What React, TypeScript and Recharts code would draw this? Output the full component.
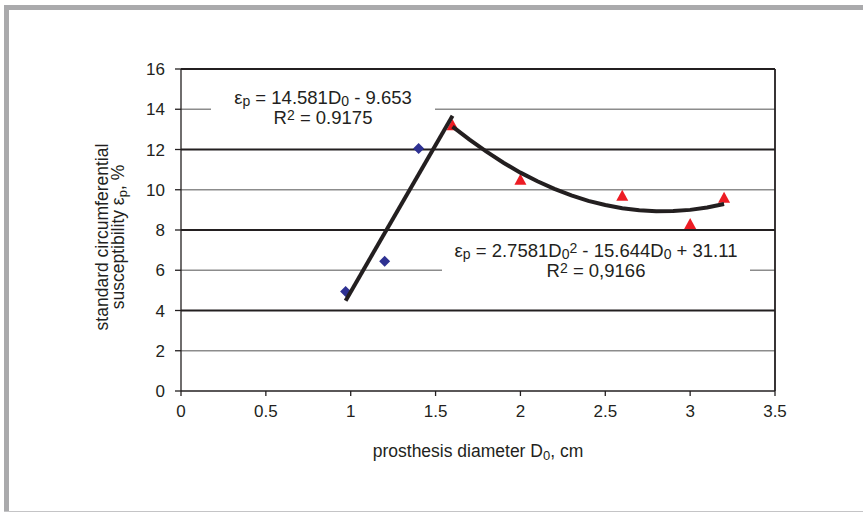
import React from 'react';
import {
  ScatterChart,
  Scatter,
  XAxis,
  YAxis,
  ReferenceLine,
} from 'recharts';

// measured points, D0 in cm, eps_p in %
const bluePoints = [
  { x: 0.97, y: 4.95 },
  { x: 1.2, y: 6.45 },
  { x: 1.4, y: 12.05 },
];

const redPoints = [
  { x: 1.6, y: 13.2 },
  { x: 2.0, y: 10.5 },
  { x: 2.6, y: 9.7 },
  { x: 3.0, y: 8.3 },
  { x: 3.2, y: 9.6 },
];

// trend lines
const linearTrend = [
  { x: 0.97, y: 4.49 },
  { x: 1.6, y: 13.68 },
];

const quadTrend = [
  { x: 1.6, y: 13.14 },
  { x: 1.7, y: 12.49 },
  { x: 1.8, y: 11.89 },
  { x: 1.9, y: 11.34 },
  { x: 2.0, y: 10.85 },
  { x: 2.1, y: 10.42 },
  { x: 2.2, y: 10.04 },
  { x: 2.3, y: 9.72 },
  { x: 2.4, y: 9.45 },
  { x: 2.5, y: 9.24 },
  { x: 2.6, y: 9.08 },
  { x: 2.7, y: 8.98 },
  { x: 2.8, y: 8.93 },
  { x: 2.9, y: 8.94 },
  { x: 3.0, y: 9.0 },
  { x: 3.1, y: 9.12 },
  { x: 3.2, y: 9.29 },
];

const xTicks = [0, 0.5, 1, 1.5, 2, 2.5, 3, 3.5];
const yTicks = [0, 2, 4, 6, 8, 10, 12, 14, 16];
const majorGrid = [4, 8, 12, 16];
const minorGrid = [2, 6, 10, 14];

const font = '"Liberation Sans", Arial, sans-serif';
const ink = '#231f20';

const sub: React.CSSProperties = { fontSize: 14, lineHeight: 0, verticalAlign: -2 };
const sup: React.CSSProperties = { fontSize: 14, lineHeight: 0, verticalAlign: 4 };
const labSub: React.CSSProperties = { fontSize: 13, lineHeight: 0, verticalAlign: -3 };

const Diamond = (props: any) => {
  const { cx, cy } = props;
  return <path d={`M${cx},${cy - 5.5} L${cx + 5.5},${cy} L${cx},${cy + 5.5} L${cx - 5.5},${cy} Z`} fill="#2e3192" />;
};

const Triangle = (props: any) => {
  const { cx, cy } = props;
  return <path d={`M${cx},${cy - 6} L${cx + 6},${cy + 5} L${cx - 6},${cy + 5} Z`} fill="#ed1c24" />;
};

const NoDot = () => <g />;

const App = () => {
  return (
    <div style={{ position: 'absolute', left: 0, top: 0, width: 863, height: 513, background: '#fff', fontFamily: font, overflow: 'hidden' }}>
      {/* frame */}
      <div style={{ position: 'absolute', left: 4, top: 5, width: 5, height: 507, background: '#aaaaac' }} />
      <div style={{ position: 'absolute', left: 4, top: 5, width: 859, height: 5, background: '#aaaaac' }} />
      <div style={{ position: 'absolute', left: 4, top: 511, width: 859, height: 1, background: '#c4c4c6' }} />

      <ScatterChart
        width={863}
        height={513}
        margin={{ top: 69, right: 88, bottom: 92, left: 121 }}
        style={{ position: 'absolute', left: 0, top: 0 }}
      >
        <XAxis
          type="number"
          dataKey="x"
          domain={[0, 3.5]}
          ticks={xTicks}
          tickSize={5}
          tickMargin={9}
          height={30}
          axisLine={{ stroke: ink, strokeWidth: 1.3 }}
          tickLine={{ stroke: ink, strokeWidth: 1.3 }}
          tick={{ fill: ink, fontSize: 17, fontFamily: font }}
        />
        <YAxis
          type="number"
          dataKey="y"
          domain={[0, 16]}
          ticks={yTicks}
          tickSize={6}
          tickMargin={10}
          width={60}
          axisLine={{ stroke: ink, strokeWidth: 1.3 }}
          tickLine={{ stroke: ink, strokeWidth: 1.3 }}
          tick={{ fill: ink, fontSize: 17, fontFamily: font }}
        />
        {minorGrid.map((v) => (
          <ReferenceLine key={'mn' + v} y={v} stroke="#8c8c8c" strokeWidth={1.5} />
        ))}
        {majorGrid.map((v) => (
          <ReferenceLine key={'mj' + v} y={v} stroke={ink} strokeWidth={2} />
        ))}
        <ReferenceLine x={3.5} stroke={ink} strokeWidth={1.8} />
        <Scatter data={bluePoints} shape={<Diamond />} isAnimationActive={false} />
        <Scatter data={redPoints} shape={<Triangle />} isAnimationActive={false} />
        <Scatter
          data={linearTrend}
          shape={<NoDot />}
          line={{ stroke: ink, strokeWidth: 4 }}
          lineType="joint"
          isAnimationActive={false}
        />
        <Scatter
          data={quadTrend}
          shape={<NoDot />}
          line={{ stroke: ink, strokeWidth: 4 }}
          lineType="joint"
          isAnimationActive={false}
        />
      </ScatterChart>

      {/* trend equations */}
      <div style={{ position: 'absolute', left: 211, top: 88, width: 224, background: '#fff', textAlign: 'center', fontSize: 18.5, lineHeight: '20px', color: ink }}>
        <div>ε<span style={sub}>p</span> = 14.581D<span style={sub}>0</span> - 9.653</div>
        <div>R<span style={sup}>2</span> = 0.9175</div>
      </div>
      <div style={{ position: 'absolute', left: 442, top: 241, width: 308, background: '#fff', textAlign: 'center', fontSize: 18.5, lineHeight: '20px', color: ink }}>
        <div>ε<span style={sub}>p</span> = 2.7581D<span style={sub}>0</span><span style={sup}>2</span> - 15.644D<span style={sub}>0</span> + 31.11</div>
        <div>R<span style={sup}>2</span> = 0,9166</div>
      </div>

      {/* axis titles */}
      <div style={{ position: 'absolute', left: 111 - 150, top: 237 - 17, width: 300, height: 34, transform: 'rotate(-90deg)', textAlign: 'center', fontSize: 17.5, lineHeight: '16px', color: ink }}>
        <div>standard circumferential</div>
        <div>susceptibility ε<span style={labSub}>p</span>, %</div>
      </div>
      <div style={{ position: 'absolute', left: 328, top: 442, width: 300, textAlign: 'center', fontSize: 17.5, lineHeight: '19px', color: ink }}>
        prosthesis diameter D<span style={labSub}>0</span>, cm
      </div>
    </div>
  );
};

export default App;
